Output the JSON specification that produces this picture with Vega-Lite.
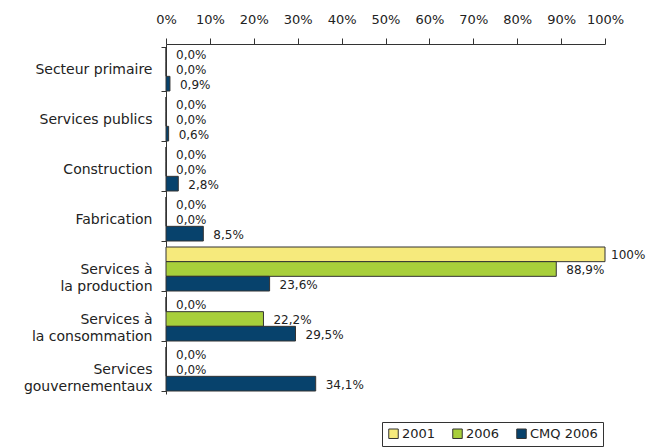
{
  "$schema": "https://vega.github.io/schema/vega-lite/v6.json",
  "width": 439,
  "height": 350,
  "autosize": {"type": "none"},
  "padding": {"left": 166, "top": 44, "right": 42, "bottom": 53},
  "background": "white",
  "data": {
    "values": [
      {"secteur": "Secteur primaire", "serie": "2001", "valeur": 0.0},
      {"secteur": "Secteur primaire", "serie": "2006", "valeur": 0.0},
      {"secteur": "Secteur primaire", "serie": "CMQ 2006", "valeur": 0.9},
      {"secteur": "Services publics", "serie": "2001", "valeur": 0.0},
      {"secteur": "Services publics", "serie": "2006", "valeur": 0.0},
      {"secteur": "Services publics", "serie": "CMQ 2006", "valeur": 0.6},
      {"secteur": "Construction", "serie": "2001", "valeur": 0.0},
      {"secteur": "Construction", "serie": "2006", "valeur": 0.0},
      {"secteur": "Construction", "serie": "CMQ 2006", "valeur": 2.8},
      {"secteur": "Fabrication", "serie": "2001", "valeur": 0.0},
      {"secteur": "Fabrication", "serie": "2006", "valeur": 0.0},
      {"secteur": "Fabrication", "serie": "CMQ 2006", "valeur": 8.5},
      {"secteur": "Services à la production", "serie": "2001", "valeur": 100},
      {"secteur": "Services à la production", "serie": "2006", "valeur": 88.9},
      {"secteur": "Services à la production", "serie": "CMQ 2006", "valeur": 23.6},
      {"secteur": "Services à la consommation", "serie": "2001", "valeur": 0.0},
      {"secteur": "Services à la consommation", "serie": "2006", "valeur": 22.2},
      {"secteur": "Services à la consommation", "serie": "CMQ 2006", "valeur": 29.5},
      {"secteur": "Services gouvernementaux", "serie": "2001", "valeur": 0.0},
      {"secteur": "Services gouvernementaux", "serie": "2006", "valeur": 0.0},
      {"secteur": "Services gouvernementaux", "serie": "CMQ 2006", "valeur": 34.1}
    ]
  },
  "transform": [
    {"calculate": "datum.valeur == 100 ? '100%' : replace(format(datum.valeur, '.1f'), '.', ',') + '%'", "as": "etiquette"}
  ],
  "encoding": {
    "y": {
      "field": "secteur",
      "type": "nominal",
      "sort": ["Secteur primaire", "Services publics", "Construction", "Fabrication", "Services à la production", "Services à la consommation", "Services gouvernementaux"],
      "scale": {"paddingInner": 0.12, "paddingOuter": 0.06},
      "axis": {
        "title": null,
        "orient": "left",
        "domainColor": "#333333",
        "tickColor": "#333333",
        "tickSize": 5,
        "tickBand": "extent",
        "labelPadding": 9,
        "labelFont": "DejaVu Sans",
        "labelFontSize": 14,
        "labelColor": "#222222",
        "labelLineHeight": 17,
        "labelExpr": "datum.label == 'Services gouvernementaux' ? ['Services', 'gouvernementaux'] : (indexof(datum.label, 'Services à ') == 0 ? ['Services à', replace(datum.label, 'Services à ', '')] : datum.label)"
      }
    },
    "yOffset": {
      "field": "serie",
      "type": "nominal",
      "sort": ["2001", "2006", "CMQ 2006"],
      "scale": {"paddingInner": 0, "paddingOuter": 0}
    },
    "x": {
      "field": "valeur",
      "type": "quantitative",
      "scale": {"domain": [0, 100], "nice": false},
      "axis": {
        "title": null,
        "orient": "top",
        "values": [0, 10, 20, 30, 40, 50, 60, 70, 80, 90, 100],
        "labelExpr": "datum.value + '%'",
        "grid": false,
        "domainColor": "#333333",
        "tickColor": "#333333",
        "tickSize": 6,
        "labelPadding": 12,
        "labelFont": "DejaVu Sans",
        "labelFontSize": 13,
        "labelColor": "#222222",
        "labelFlush": false
      }
    }
  },
  "layer": [
    {
      "mark": {"type": "bar", "stroke": "#333333", "strokeWidth": 1},
      "encoding": {
        "color": {
          "field": "serie",
          "type": "nominal",
          "scale": {"domain": ["2001", "2006", "CMQ 2006"], "range": ["#F6EA7C", "#A8CF3B", "#07426C"]},
          "legend": {
            "title": null,
            "orient": "none",
            "direction": "horizontal",
            "legendX": 216,
            "legendY": 378,
            "symbolType": "square",
            "symbolSize": 90,
            "symbolStrokeColor": "#333333",
            "symbolStrokeWidth": 1,
            "labelFont": "DejaVu Sans",
            "labelFontSize": 13,
            "labelColor": "#222222",
            "labelOffset": 2,
            "columnPadding": 14,
            "strokeColor": "#333333",
            "padding": 5,
            "fillColor": "white"
          }
        }
      }
    },
    {
      "transform": [{"filter": "datum.valeur < 99"}],
      "mark": {"type": "text", "align": "left", "baseline": "middle", "dx": 10, "dy": 1, "font": "DejaVu Sans", "fontSize": 12, "fill": "#222222"},
      "encoding": {
        "text": {"field": "etiquette", "type": "nominal"}
      }
    },
    {
      "transform": [{"filter": "datum.valeur >= 99"}],
      "mark": {"type": "text", "align": "left", "baseline": "middle", "dx": 6, "dy": 1, "font": "DejaVu Sans", "fontSize": 12, "fill": "#222222"},
      "encoding": {
        "text": {"field": "etiquette", "type": "nominal"}
      }
    }
  ],
  "config": {
    "view": {"stroke": null}
  }
}
